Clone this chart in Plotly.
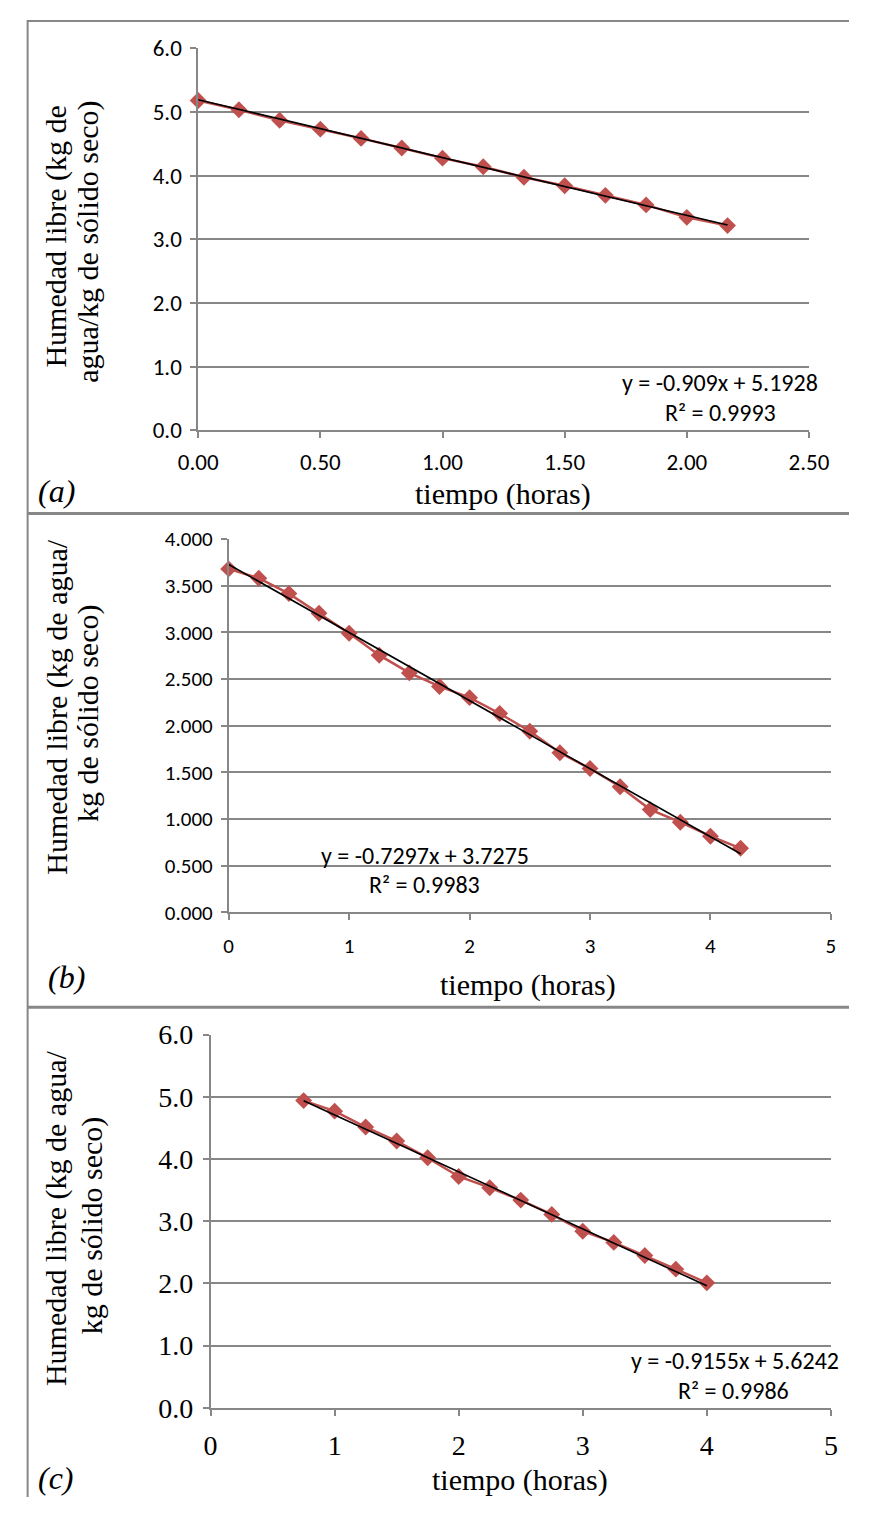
import plotly.graph_objects as go

W, H = 870, 1513

# ---- data -------------------------------------------------------------
tiempo_a = [0, 1/6, 2/6, 3/6, 4/6, 5/6, 1, 7/6, 8/6, 9/6, 10/6, 11/6, 2, 13/6]
humedad_a = [5.18, 5.035, 4.87, 4.73, 4.585, 4.435, 4.275, 4.14, 3.975, 3.84,
             3.69, 3.54, 3.345, 3.215]
pendiente_a, ordenada_a, r2_a = -0.909, 5.1928, 0.9993

tiempo_b = [0, 0.25, 0.5, 0.75, 1, 1.25, 1.5, 1.75, 2, 2.25, 2.5, 2.75, 3,
            3.25, 3.5, 3.75, 4, 4.25]
humedad_b = [3.68, 3.58, 3.415, 3.205, 2.99, 2.755, 2.565, 2.42, 2.3, 2.13,
             1.94, 1.71, 1.54, 1.345, 1.1, 0.965, 0.815, 0.685]
pendiente_b, ordenada_b, r2_b = -0.7297, 3.7275, 0.9983

tiempo_c = [0.75, 1, 1.25, 1.5, 1.75, 2, 2.25, 2.5, 2.75, 3, 3.25, 3.5, 3.75, 4]
humedad_c = [4.94, 4.77, 4.515, 4.29, 4.02, 3.72, 3.54, 3.34, 3.11, 2.84,
             2.66, 2.45, 2.23, 2.01]
pendiente_c, ordenada_c, r2_c = -0.9155, 5.6242, 0.9986

# ---- styling ----------------------------------------------------------
ROJO = "#C0504D"
GRIS = "#878787"
SANS = "Carlito, Lato, sans-serif"
SERIF = "Liberation Serif, Times New Roman, serif"


def px(x):
    return x / W


def py(y):
    return 1 - y / H


fig = go.Figure()

paneles = [
    # data, fit, x-range/dtick/format, y-range/dtick/format, pixel box, tick font
    dict(x=tiempo_a, y=humedad_a, m=pendiente_a, b=ordenada_a,
         xr=[0, 2.5], xd=0.5, xf=".2f", yr=[0, 6], yd=1, yf=".1f",
         box=(187, 828, 424, 34), font=SANS, fsize=23, xstand=4),
    dict(x=tiempo_b, y=humedad_b, m=pendiente_b, b=ordenada_b,
         xr=[0, 5], xd=1, xf="d", yr=[0, 4], yd=0.5, yf=".3f",
         box=(219, 851, 916, 535), font=SANS, fsize=21, xstand=8),
    dict(x=tiempo_c, y=humedad_c, m=pendiente_c, b=ordenada_c,
         xr=[0, 5], xd=1, xf="d", yr=[0, 6], yd=1, yf=".1f",
         box=(200, 851, 1422, 1041), font=SERIF, fsize=28, xstand=6),
]

layout_axes = {}
for i, p in enumerate(paneles, start=1):
    xa = "x" if i == 1 else f"x{i}"
    ya = "y" if i == 1 else f"y{i}"
    x0, x1, yb, yt = p["box"]
    fig.add_trace(go.Scatter(
        x=p["x"], y=p["y"], xaxis=xa, yaxis=ya, mode="lines+markers",
        line=dict(color=ROJO, width=2.5),
        marker=dict(symbol="diamond", size=13, color=ROJO),
        showlegend=False, cliponaxis=False))
    xs = [p["x"][0], p["x"][-1]]
    fig.add_trace(go.Scatter(
        x=xs, y=[p["m"] * v + p["b"] for v in xs], xaxis=xa, yaxis=ya,
        mode="lines", line=dict(color="black", width=1.6),
        showlegend=False, cliponaxis=False))
    tf = dict(family=p["font"], size=p["fsize"], color="black")
    layout_axes["xaxis" if i == 1 else f"xaxis{i}"] = dict(
        domain=[px(x0), px(x1)], anchor=ya, range=p["xr"], dtick=p["xd"],
        tick0=0, tickformat=p["xf"], showgrid=False, zeroline=False,
        showline=True, linecolor=GRIS, linewidth=1.5, ticks="outside",
        ticklen=6, tickcolor=GRIS, tickwidth=1.5, tickfont=tf,
        ticklabelstandoff=p["xstand"], fixedrange=True)
    layout_axes["yaxis" if i == 1 else f"yaxis{i}"] = dict(
        domain=[py(yb), py(yt)], anchor=xa, range=p["yr"], dtick=p["yd"],
        tick0=0, tickformat=p["yf"], showgrid=True, gridcolor=GRIS,
        gridwidth=1.5, zeroline=False, showline=True, linecolor=GRIS,
        linewidth=1.5, ticks="outside", ticklen=6, tickcolor=GRIS,
        tickwidth=1.5, tickfont=tf, ticklabelstandoff=4, fixedrange=True)

fig.update_layout(**layout_axes)

# ---- text -------------------------------------------------------------
TITULO = dict(family=SERIF, size=30, color="black")
ECUACION = dict(family=SANS, size=24, color="black")
ETIQUETA = dict(family=SERIF, size=32, color="black")
anotaciones = []


def texto(t, x, y, font, angle=0):
    anotaciones.append(dict(text=t, x=px(x), y=py(y), xref="paper",
                            yref="paper", showarrow=False, font=font,
                            textangle=angle, xanchor="center",
                            yanchor="middle"))


# axis titles
texto("tiempo (horas)", 507, 489, TITULO)
texto("tiempo (horas)", 533, 990, TITULO)
texto("tiempo (horas)", 525, 1496, TITULO)
texto("Humedad libre (kg de", 38, 226, TITULO, -90)
texto("agua/kg de sólido seco)", 72, 232, TITULO, -90)
texto("Humedad libre (kg de agua/", 38, 706, TITULO, -90)
texto("kg de sólido seco)", 72, 713, TITULO, -90)
texto("Humedad libre (kg de agua/", 38, 1228, TITULO, -90)
texto("kg de sólido seco)", 75, 1236, TITULO, -90)

# panel labels
texto("<i>(a)</i>", 38, 486, ETIQUETA)
texto("<i>(b)</i>", 49, 982, ETIQUETA)
texto("<i>(c)</i>", 38, 1494, ETIQUETA)

# fit equations
texto(f"y = {pendiente_a}x + {ordenada_a}", 735, 375, ECUACION)
texto(f"R² = {r2_a}", 735, 406, ECUACION)
texto(f"y = {pendiente_b}x + {ordenada_b}", 425, 858, ECUACION)
texto(f"R² = {r2_b}", 424, 888, ECUACION)
texto(f"y = {pendiente_c}x + {ordenada_c}", 750, 1374, ECUACION)
texto(f"R² = {r2_c}", 749, 1404, ECUACION)

# ---- panel frame lines ------------------------------------------------
def linea(x0, y0, x1, y1, w):
    return dict(type="line", xref="paper", yref="paper", x0=px(x0),
                y0=py(y0), x1=px(x1), y1=py(y1),
                line=dict(color=GRIS, width=w), layer="above")


shapes = [
    linea(8, 6, 870, 6, 2),
    linea(8, 5, 8, 1513, 2),
    linea(8, 509, 870, 509, 3),
    linea(8, 1013, 870, 1013, 3),
]

fig.update_layout(
    width=W, height=H, margin=dict(l=0, r=0, t=0, b=0),
    paper_bgcolor="white", plot_bgcolor="white",
    annotations=anotaciones, shapes=shapes, showlegend=False,
)

fig.write_html("out.html", config={"displayModeBar": False})
